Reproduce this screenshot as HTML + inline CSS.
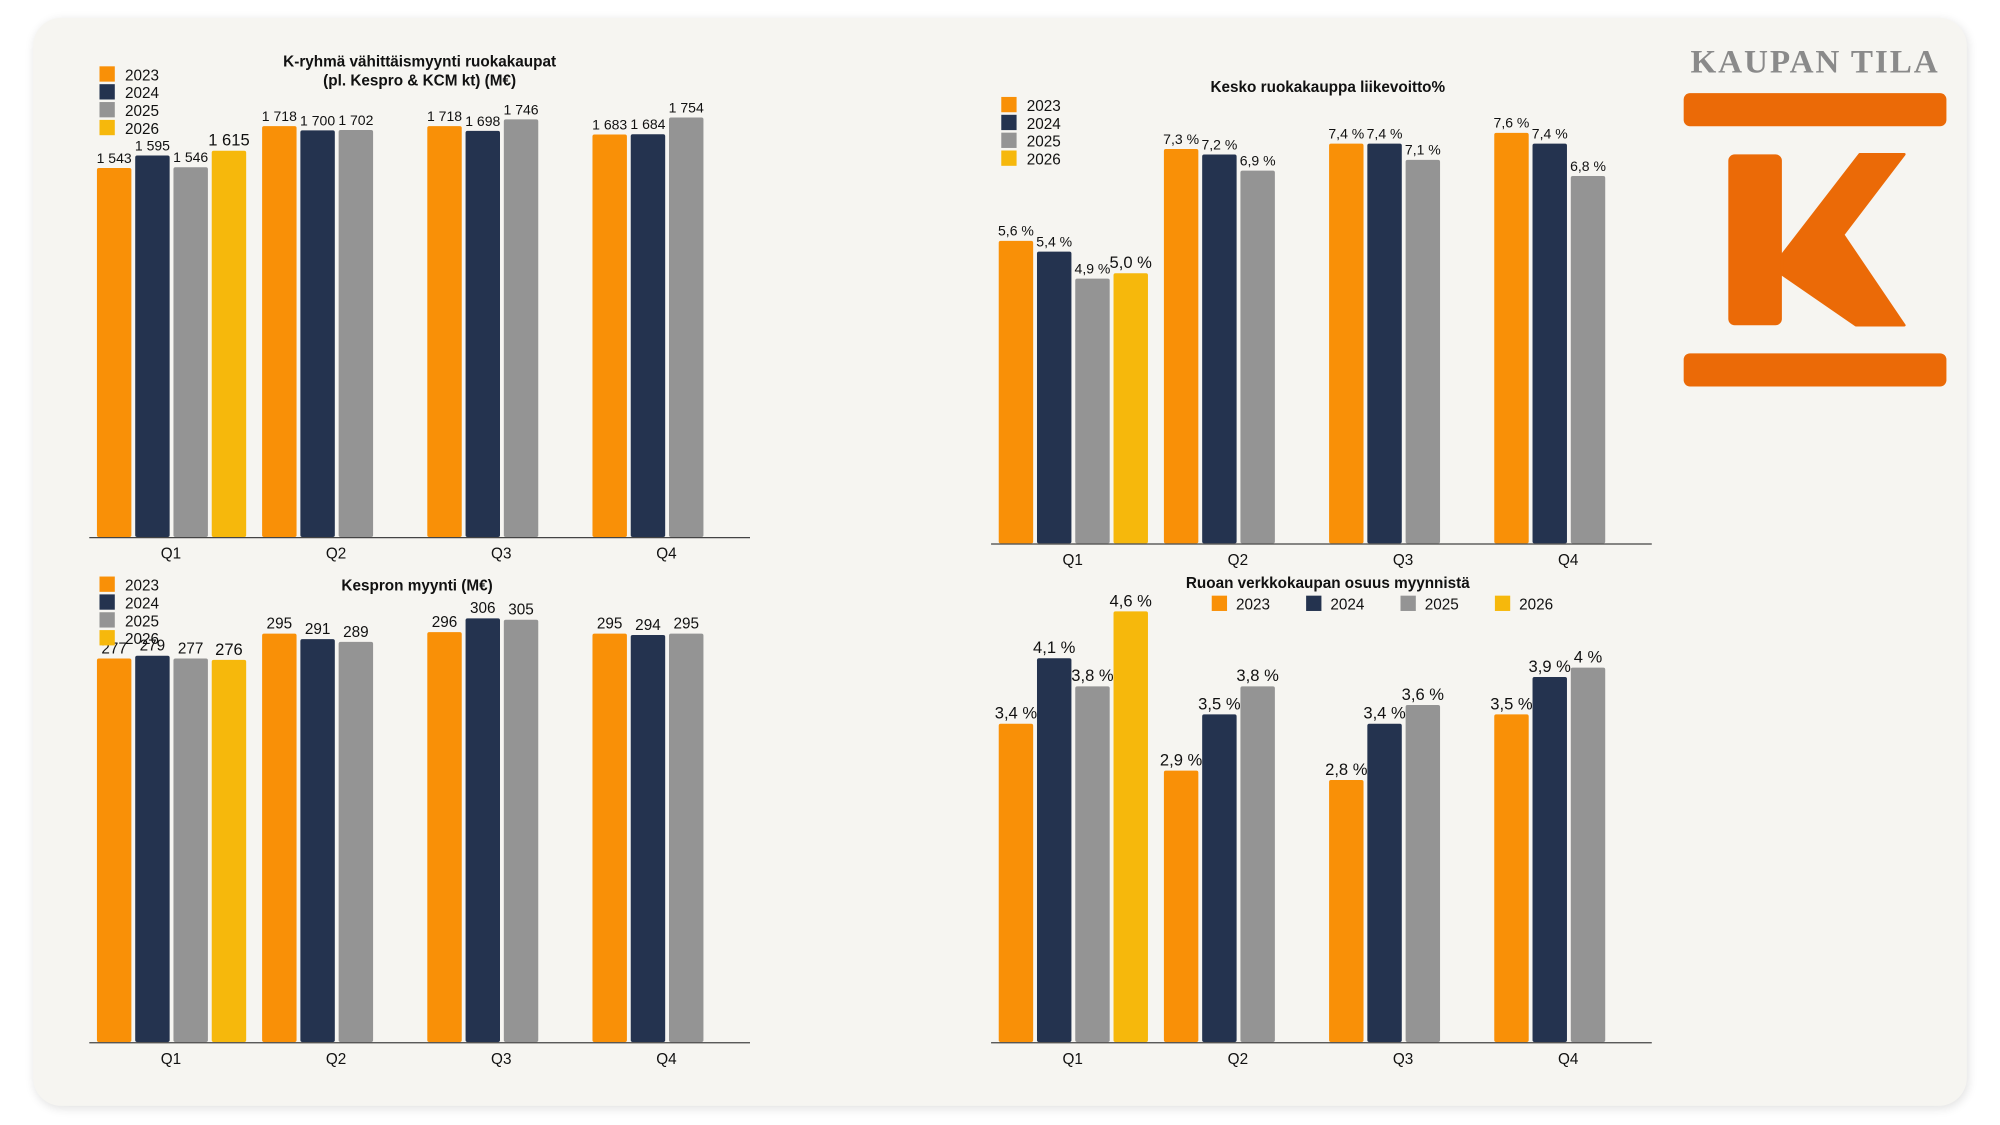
<!DOCTYPE html>
<html><head><meta charset="utf-8"><style>
html,body{margin:0;padding:0;background:#fff;}
svg{display:block;font-family:"Liberation Sans",Arial,sans-serif;}
</style></head><body>
<svg id="s" width="2000" height="1125" viewBox="0 0 1568 882" xmlns="http://www.w3.org/2000/svg">
<defs><filter id="sh" x="-5%" y="-5%" width="110%" height="110%"><feGaussianBlur stdDeviation="4"/></filter></defs>
<rect x="27" y="16" width="1516" height="853" rx="22" fill="#000" opacity="0.12" filter="url(#sh)"/>
<rect x="26" y="14" width="1516" height="853" rx="22" fill="#f6f5f1"/>
<g>
<text x="1423" y="57" text-anchor="middle" font-family="'Liberation Serif',serif" font-weight="bold" font-size="26" fill="#8a8a8a" letter-spacing="1.5">KAUPAN TILA</text>
<rect x="1320" y="73" width="206" height="26" rx="5" fill="#eb6a07"/>
<rect x="1355" y="121" width="42" height="134" rx="5" fill="#eb6a07"/>
<polygon points="1397,200 1458,121 1493,121 1445,184 1493,255 1455,255 1397,215" fill="#eb6a07" stroke="#eb6a07" stroke-width="2" stroke-linejoin="round"/>
<rect x="1320" y="277" width="206" height="26" rx="5" fill="#eb6a07"/>
</g>
<g id="charts"></g>
</svg>
<script>
const quarters = ["Q1","Q2","Q3","Q4"];
const years = ["2023","2024","2025","2026"];
const colors = ["#f99007","#24334f","#949494","#f6b80c"];
// Chart 1: K-ryhmä vähittäismyynti
const salesData = [[1543,1595,1546,1615],[1718,1700,1702,null],[1718,1698,1746,null],[1683,1684,1754,null]];
// Chart 2: Kespro
const kesproData = [[277,279,277,276],[295,291,289,null],[296,306,305,null],[295,294,295,null]];
// Chart 3: liikevoitto %
const profitData = [[5.6,5.4,4.9,5.0],[7.3,7.2,6.9,null],[7.4,7.4,7.1,null],[7.6,7.4,6.8,null]];
// Chart 4: verkkokaupan osuus
const onlineData = [[3.4,4.1,3.8,4.6],[2.9,3.5,3.8,null],[2.8,3.4,3.6,null],[3.5,3.9,4.0,null]];

const NS="http://www.w3.org/2000/svg";
const root=document.getElementById('charts');
function mk(tag,attrs,parent){const e=document.createElementNS(NS,tag);for(const k in attrs)e.setAttribute(k,attrs[k]);(parent||root).appendChild(e);return e;}
function fmtInt(v){return String(v).replace(/\B(?=(\d{3})+(?!\d))/g," ");}
function fmtPct1(v){return v.toFixed(1).replace(".",",")+" %";}
function fmtPct(v){return (Number.isInteger(v)?String(v):String(v).replace(".",","))+" %";}

function chart(cfg){
  const g=mk('g',{});
  
  
  const y=v=>cfg.base - v/cfg.yMax*cfg.H;
  const bw=27, step=30, gstep=129.5;
  cfg.data.forEach((grp,qi)=>{
    grp.forEach((v,si)=>{
      if(v===null) return;
      const x=cfg.x0+qi*gstep+si*step;
      const r=mk('rect',{x:x,y:y(v),width:bw,height:cfg.base-y(v),fill:colors[si],rx:1.5},g);
      
      
      const big=(si===3)||cfg.bigAll;
      const t=mk('text',{x:x+bw/2,y:y(v)-4,'text-anchor':'middle','font-size':big?cfg.fsBig:cfg.fs,fill:'#111'},g);
      t.textContent=cfg.fmt(v);
      
      
    });
    const q=mk('text',{x:cfg.x0+qi*gstep+58,y:cfg.base+17,'text-anchor':'middle','font-size':12,fill:'#111'},g);
    q.textContent=quarters[qi];
    
    
  });
  const ax=mk('line',{x1:cfg.x0-6,x2:cfg.x0+512,y1:cfg.base+0.5,y2:cfg.base+0.5,stroke:'#444','stroke-width':1},g);
  
  
  cfg.title.forEach((line,i)=>{
    const t=mk('text',{x:cfg.tx,y:cfg.ty+i*15,'text-anchor':'middle','font-size':12,'font-weight':'bold',fill:'#111'},g);
    t.textContent=line;
    
    
  });
  years.forEach((yr,i)=>{
    let lx,ly;
    if(cfg.legendH){lx=cfg.lx+i*74;ly=cfg.ly;}else{lx=cfg.lx;ly=cfg.ly+i*14;}
    const s=mk('rect',{x:lx,y:ly-10,width:12,height:12,fill:colors[i]},g);
    
    
    const t=mk('text',{x:lx+(cfg.legendH?19:20),y:ly+1,'font-size':12,fill:'#111'},g);
    t.textContent=yr;
    
    
  });
}
chart({name:'chart-k-ryhma-sales',data:salesData,x0:76,base:421,yMax:2000,H:375,fmt:fmtInt,fs:11,fsBig:13,
  title:['K-ryhmä vähittäismyynti ruokakaupat','(pl. Kespro & KCM kt) (M€)'],tx:329,ty:52,lx:78,ly:62});
chart({name:'chart-kespro-sales',data:kesproData,x0:76,base:817,yMax:350,H:380,fmt:fmtInt,fs:12,fsBig:13,
  title:['Kespron myynti (M€)'],tx:327,ty:463,lx:78,ly:462});
chart({name:'chart-kesko-operating-margin',data:profitData,x0:783,base:426,yMax:8,H:338.8,fmt:fmtPct1,fs:11,fsBig:13,
  title:['Kesko ruokakauppa liikevoitto%'],tx:1041,ty:72,lx:785,ly:86});
chart({name:'chart-online-share',data:onlineData,x0:783,base:817,yMax:5,H:367,fmt:fmtPct,fs:13,fsBig:13,
  title:['Ruoan verkkokaupan osuus myynnistä'],tx:1041,ty:461,lx:950,ly:477,legendH:true});
</script>
</body></html>
